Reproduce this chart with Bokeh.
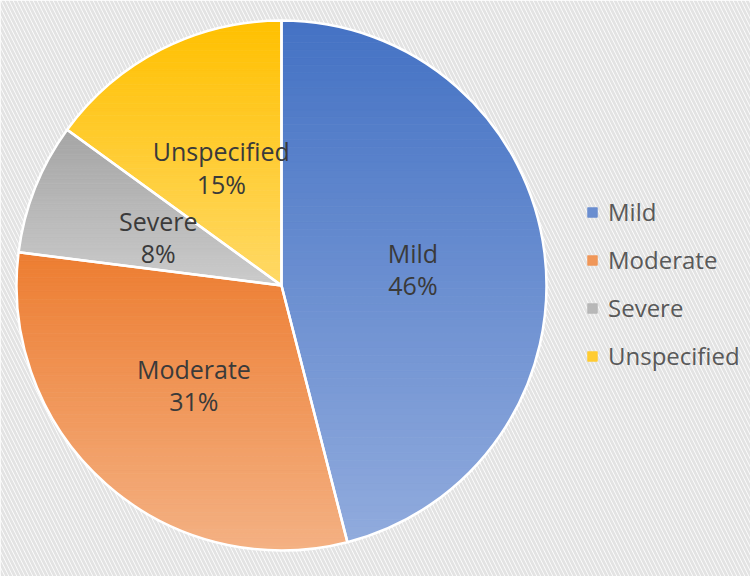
import numpy as np
from bokeh.plotting import figure
from bokeh.models import Range1d, Legend, LegendItem
from bokeh.core.properties import value
from bokeh.embed import file_html
from bokeh.resources import INLINE

# ---- data ----
categories = ["Mild", "Moderate", "Severe", "Unspecified"]
percents = [46, 31, 8, 15]
top_colors = ["#4472C4", "#ED7D31", "#A5A5A5", "#FFC000"]
bottom_colors = ["#91ABDD", "#F4B183", "#CBCBCB", "#FFD966"]

# ---- layout ----
W, H = 750, 576
CX, CY, R = 281, 291, 265

p = figure(width=W, height=H, x_range=Range1d(0, W), y_range=Range1d(0, H),
           output_backend="svg", toolbar_location=None, min_border=0)
p.axis.visible = False
p.grid.visible = False
p.outline_line_color = None
p.background_fill_color = "white"
p.border_fill_color = "white"

# striped background
p.quad(left=[0], right=[W], bottom=[0], top=[H], fill_color="white", line_color=None,
       hatch_pattern="\\", hatch_color="#e3e3e3", hatch_scale=8, hatch_weight=2.8)


def hex2rgb(h):
    h = h.lstrip("#")
    return np.array([int(h[i:i + 2], 16) for i in (0, 2, 4)], dtype=float)


def rgb2hex(c):
    return "#%02x%02x%02x" % tuple(int(round(v)) for v in c)


def clip(poly, y0, keep_above):
    out = []
    n = len(poly)
    for i in range(n):
        P = poly[i]
        Q = poly[(i + 1) % n]
        inP = P[1] >= y0 if keep_above else P[1] <= y0
        inQ = Q[1] >= y0 if keep_above else Q[1] <= y0
        if inP:
            out.append(P)
        if inP != inQ:
            t = (y0 - P[1]) / (Q[1] - P[1])
            out.append((P[0] + t * (Q[0] - P[0]), y0))
    return out


total = float(sum(percents))
cum = 0.0
starts, ends, mids = [], [], []
items = []
for cat, pct, tc, bc in zip(categories, percents, top_colors, bottom_colors):
    a0 = 90 - 360 * cum / total
    a1 = 90 - 360 * (cum + pct) / total
    am = 90 - 360 * (cum + pct / 2) / total
    starts.append(np.radians(a1))
    ends.append(np.radians(a0))
    mids.append(np.radians(am))
    cum += pct
    angs = np.radians(np.linspace(a0, a1, 200))
    poly = [(CX, CY)] + [(CX + R * np.cos(a), CY + R * np.sin(a)) for a in angs]
    ys = [q[1] for q in poly]
    ymin, ymax = min(ys), max(ys)
    N = 70
    c_top, c_bot = hex2rgb(tc), hex2rgb(bc)
    bx, by, bcol = [], [], []
    for k in range(N):
        lo = ymin + k * (ymax - ymin) / N
        hi = lo + (ymax - ymin) / N
        sub = clip(clip(poly, lo, True), hi, False)
        if len(sub) < 3:
            continue
        t = (ymax - (lo + hi) / 2) / (ymax - ymin)
        col = rgb2hex(c_top * (1 - t) + c_bot * t)
        bx.append([q[0] for q in sub])
        by.append([q[1] for q in sub])
        bcol.append(col)
    r = p.patches(xs=bx, ys=by, fill_color=bcol, line_color=bcol, line_width=0.8)
    items.append(LegendItem(label=cat, renderers=[r], index=len(bx) // 2))

# white slice borders
p.wedge(x=[CX] * 4, y=[CY] * 4, radius=R, start_angle=starts, end_angle=ends,
        fill_alpha=0, line_color="white", line_width=2.5)

# data labels
lx = [CX + 0.5 * R * np.cos(m) for m in mids]
ly = [CY + 0.5 * R * np.sin(m) for m in mids]
ltext = ["%s\n%d%%" % (c, v) for c, v in zip(categories, percents)]
p.text(x=lx, y=ly, text=ltext, text_align="center", text_baseline="middle",
       text_font=value("Open Sans"), text_font_size="25px", text_color="#3a3a3a",
       text_line_height=0.95)

legend = Legend(items=items, location=(586, 204), orientation="vertical",
                glyph_width=12, glyph_height=12, label_standoff=10, spacing=15,
                padding=0, margin=0, background_fill_alpha=0, border_line_alpha=0,
                label_text_font="Open Sans", label_text_font_size="24px",
                label_text_color="#595959")
p.add_layout(legend)

open("out.html", "w").write(file_html(p, INLINE))
